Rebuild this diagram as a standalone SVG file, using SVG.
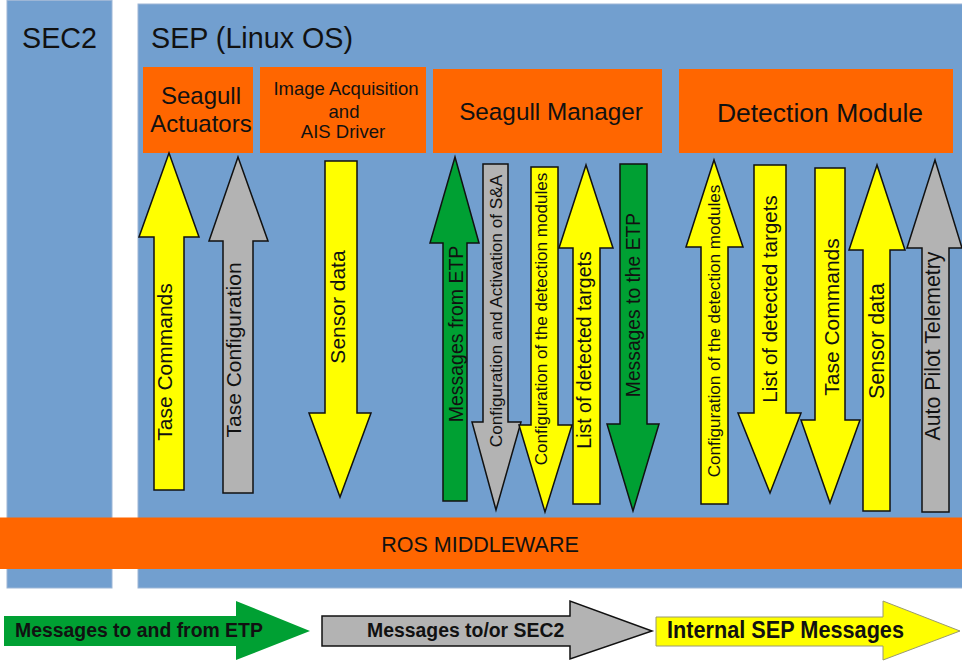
<svg xmlns="http://www.w3.org/2000/svg" width="962" height="661" viewBox="0 0 962 661">
  <style>
    text { font-family: "Liberation Sans", Arial, sans-serif; fill: #111; }
    .panel { fill: #729fcf; stroke: #9db6d6; stroke-width: 1; }
    .box { fill: #ff6600; }
    .yel { fill: #ffff00; stroke: #111; stroke-width: 1.5; stroke-linejoin: miter; }
    .gry { fill: #b3b3b3; stroke: #111; stroke-width: 1.5; }
    .grn { fill: #00a033; stroke: #111; stroke-width: 1.5; }
    .lbl { text-anchor: middle; }
    .big { font-size: 28.7px; }
    .leg { font-weight: bold; }
  </style>

  <!-- processing units -->
  <g id="sec2">
    <rect class="panel" x="7" y="0.5" width="105" height="587.5"/>
    <text class="big" x="22" y="48">SEC2</text>
  </g>
  <g id="sep">
    <rect class="panel" x="138" y="4" width="830" height="584"/>
    <text class="big" x="151" y="48">SEP (Linux OS)</text>
  </g>

  <!-- software modules -->
  <g id="seagull-actuators">
    <rect class="box" x="143" y="67" width="110" height="86"/>
    <text class="lbl" x="201" y="104" font-size="24">Seagull</text>
    <text class="lbl" x="201" y="132" font-size="24">Actuators</text>
  </g>
  <g id="image-acquisition">
    <rect class="box" x="260" y="67" width="166" height="86"/>
    <text class="lbl" x="346" y="95" font-size="18.5">Image Acquisition</text>
    <text class="lbl" x="344" y="118" font-size="18.5">and</text>
    <text class="lbl" x="343" y="138" font-size="18.5">AIS Driver</text>
  </g>
  <g id="seagull-manager">
    <rect class="box" x="433" y="69" width="229" height="84"/>
    <text class="lbl" x="551" y="120" font-size="24.3">Seagull Manager</text>
  </g>
  <g id="detection-module">
    <rect class="box" x="679" y="69" width="274" height="84"/>
    <text class="lbl" x="820" y="122" font-size="26.5">Detection Module</text>
  </g>

  <!-- message flows -->
  <g id="connectors">
    <path class="yel" d="M154,490 L154,237 L139,237 L169,153 L199,237 L184,237 L184,490 Z"/>
    <path class="gry" d="M223,493 L223,241 L209,241 L238,157 L268,241 L253,241 L253,493 Z"/>
    <path class="yel" d="M325,161 L357,161 L357,413 L371,413 L340,497 L309,413 L325,413 Z"/>
    <path class="grn" d="M443,501 L443,243 L430,243 L455,157 L479,243 L467,243 L467,501 Z"/>
    <path class="gry" d="M483,164 L508,164 L508,422 L521,422 L496,510 L472,422 L483,422 Z"/>
    <path class="yel" d="M531,167 L558,167 L558,425 L572,425 L545,512 L519,425 L531,425 Z"/>
    <path class="yel" d="M573,504 L573,248 L559,248 L586,165 L613,248 L600,248 L600,504 Z"/>
    <path class="grn" d="M620,164 L647,164 L647,424 L659,424 L633,511 L607,424 L620,424 Z"/>
    <path class="yel" d="M701,504 L701,247 L686,247 L714,160 L743,247 L728,247 L728,504 Z"/>
    <path class="yel" d="M754,165 L786,165 L786,413 L801,413 L770,493 L738,413 L754,413 Z"/>
    <path class="yel" d="M815,168 L845,168 L845,420 L860,420 L830,503 L801,420 L815,420 Z"/>
    <path class="yel" d="M863,511 L863,250 L849,250 L877,165 L905,250 L890,250 L890,511 Z"/>
    <path class="gry" d="M922,512 L922,248 L907,248 L935,160 L962,248 L949,248 L949,512 Z"/>

    <text class="lbl" font-size="21" transform="translate(172,362) rotate(-90)">Tase Commands</text>
    <text class="lbl" font-size="21" transform="translate(241,350) rotate(-90)">Tase Configuration</text>
    <text class="lbl" font-size="21" transform="translate(345,307) rotate(-90)">Sensor data</text>
    <text class="lbl" font-size="19.5" transform="translate(463,334) rotate(-90)">Messages from ETP</text>
    <text class="lbl" font-size="17.2" transform="translate(502,311) rotate(-90)">Configuration and Activation of S&amp;A</text>
    <text class="lbl" font-size="17.1" transform="translate(547,319) rotate(-90)">Configuration of the detection modules</text>
    <text class="lbl" font-size="19.5" transform="translate(591,350) rotate(-90)">List of detected targets</text>
    <text class="lbl" font-size="19.3" transform="translate(640,305) rotate(-90)">Messages to the ETP</text>
    <text class="lbl" font-size="17.1" transform="translate(720,331) rotate(-90)">Configuration of the detection modules</text>
    <text class="lbl" font-size="20.5" transform="translate(777,299) rotate(-90)">List of detected targets</text>
    <text class="lbl" font-size="21" transform="translate(839,317) rotate(-90)">Tase Commands</text>
    <text class="lbl" font-size="21.5" transform="translate(884,341) rotate(-90)">Sensor data</text>
    <text class="lbl" font-size="21.3" transform="translate(940,346) rotate(-90)">Auto Pilot Telemetry</text>
  </g>

  <!-- middleware bus -->
  <g id="ros-middleware">
    <rect class="box" x="0" y="517.5" width="962" height="51.5"/>
    <text class="lbl" x="480" y="552" font-size="21.5">ROS MIDDLEWARE</text>
  </g>

  <!-- legend -->
  <g id="legend-etp">
    <path d="M4,616 L236,616 L236,601 L310,631 L236,660 L236,646 L4,646 Z" fill="#00a033"/>
    <text class="leg" x="15" y="637" font-size="19.4">Messages to and from ETP</text>
  </g>
  <g id="legend-sec2">
    <path d="M322,616 L570,616 L570,601 L652,631 L570,659 L570,646 L322,646 Z" fill="#b3b3b3" stroke="#111" stroke-width="1.5"/>
    <text class="leg" x="367" y="637" font-size="19.4">Messages to/or SEC2</text>
  </g>
  <g id="legend-internal">
    <path d="M656,617 L883,617 L883,601 L960,631 L883,660 L883,646 L656,646 Z" fill="#ffff00" stroke="#9a9a70" stroke-width="1"/>
    <text class="leg" x="667" y="638" font-size="24" textLength="237" lengthAdjust="spacingAndGlyphs">Internal SEP Messages</text>
  </g>
</svg>
